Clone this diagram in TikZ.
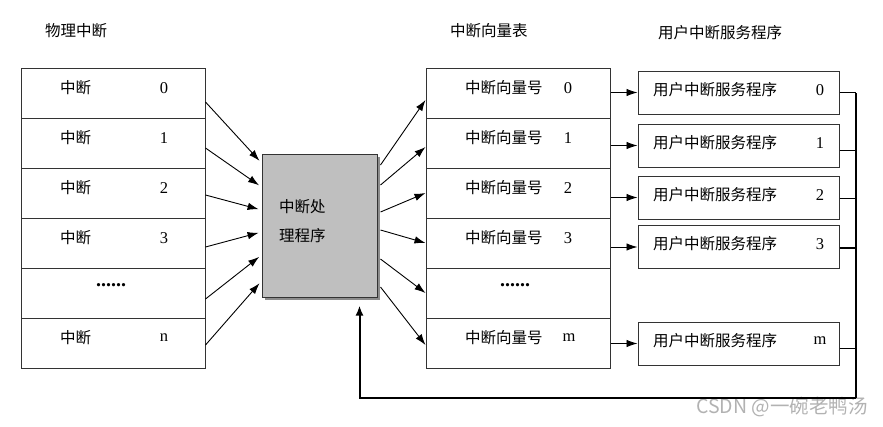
\documentclass[tikz,border=0pt]{standalone}
\usepackage{fontspec}
\setmainfont{Liberation Serif}
\newfontfamily\cjk{Noto Sans CJK SC}
\usepackage{tikz}
\usetikzlibrary{arrows.meta,shadows}

\begin{document}
\begin{tikzpicture}[x=1pt, y=-1pt, every node/.style={inner sep=0pt, font=\fontsize{15.5}{18}\selectfont},
  row/.style={draw=black!80, line width=1pt, minimum width=184pt, minimum height=50pt},
  svc/.style={draw=black!80, line width=1pt, minimum width=201pt, minimum height=43pt},
  num/.style={font=\fontsize{16.5}{18}\selectfont},
  link/.style={-{Latex[length=11pt,width=7.5pt]}, line width=0.9pt},
  bus/.style={line width=2pt}]
\useasboundingbox (0,0) rectangle (883,426);

% Titles
\node[anchor=west] (t1) at (45,31) {\cjk 物理中断};
\node[anchor=west] (t2) at (450,31) {\cjk 中断向量表};
\node[anchor=west] (t3) at (658,33) {\cjk 用户中断服务程序};

% Physical interrupts
\node[row] (p0) at (113,93) {};
\node[row] (p1) at (113,143) {};
\node[row] (p2) at (113,193) {};
\node[row] (p3) at (113,243) {};
\node[row] (pd) at (113,293) {};
\node[row] (pn) at (113,343) {};
\node[anchor=west] (p0l) at (60,88) {\cjk 中断};
\node[anchor=west] (p1l) at (60,138) {\cjk 中断};
\node[anchor=west] (p2l) at (60,188) {\cjk 中断};
\node[anchor=west] (p3l) at (60,238) {\cjk 中断};
\node[anchor=west] (pnl) at (60,338) {\cjk 中断};
\node[num] (p0n) at (164,88) {0};
\node[num] (p1n) at (164,138) {1};
\node[num] (p2n) at (164,188) {2};
\node[num] (p3n) at (164,238) {3};
\node[num] (pnn) at (164,338) {n};
\node[font=\fontsize{20}{20}\bfseries] (pdd) at (111,285) {......};

% Handler
\node[draw=black!80, line width=1pt, fill=black!25, minimum width=115pt, minimum height=143pt,
  drop shadow={shadow xshift=3pt, shadow yshift=-3pt, fill=black!45, opacity=1}] (h) at (319.5,225.5) {};
\node[anchor=west, align=left] (hl) at (279,221.5) {\cjk 中断处\\[11pt]\cjk 理程序};

% Vector table
\node[row] (v0) at (518,93) {};
\node[row] (v1) at (518,143) {};
\node[row] (v2) at (518,193) {};
\node[row] (v3) at (518,243) {};
\node[row] (vd) at (518,293) {};
\node[row] (vm) at (518,343) {};
\node[anchor=west] (v0l) at (465,88) {\cjk 中断向量号};
\node[anchor=west] (v1l) at (465,138) {\cjk 中断向量号};
\node[anchor=west] (v2l) at (465,188) {\cjk 中断向量号};
\node[anchor=west] (v3l) at (465,238) {\cjk 中断向量号};
\node[anchor=west] (vml) at (465,338) {\cjk 中断向量号};
\node[num] (v0n) at (568,88) {0};
\node[num] (v1n) at (568,138) {1};
\node[num] (v2n) at (568,188) {2};
\node[num] (v3n) at (568,238) {3};
\node[num] (vmn) at (569,338) {m};
\node[font=\fontsize{20}{20}\bfseries] (vdd) at (515,285) {......};

% Service routines
\node[svc] (s0) at (738.5,92.5) {};
\node[svc] (s1) at (738.5,145.5) {};
\node[svc] (s2) at (738.5,197.5) {};
\node[svc] (s3) at (738.5,247) {};
\node[svc] (sm) at (738.5,343.5) {};
\node[anchor=west] (s0l) at (653,90) {\cjk 用户中断服务程序};
\node[anchor=west] (s1l) at (653,143) {\cjk 用户中断服务程序};
\node[anchor=west] (s2l) at (653,195) {\cjk 用户中断服务程序};
\node[anchor=west] (s3l) at (653,244) {\cjk 用户中断服务程序};
\node[anchor=west] (sml) at (653,341) {\cjk 用户中断服务程序};
\node[num] (s0n) at (820,90) {0};
\node[num] (s1n) at (820,143) {1};
\node[num] (s2n) at (820,195) {2};
\node[num] (s3n) at (820,244) {3};
\node[num] (smn) at (820,341) {m};

\node[anchor=east, text=black!30, font=\fontsize{19.5}{20}\selectfont] (wm) at (868,407) {\cjk CSDN @一碗老鸭汤};

%Lines
\draw[link, shorten >=3pt] ([yshift=-9pt]p0.east) -- ([yshift=62.5pt]h.west);
\draw[link, shorten >=3pt] ([yshift=-5pt]p1.east) -- ([yshift=38.5pt]h.west);
\draw[link, shorten >=3pt] ([yshift=-2pt]p2.east) -- ([yshift=15.5pt]h.west);
\draw[link, shorten >=3pt] ([yshift=-4pt]p3.east) -- ([yshift=-6.5pt]h.west);
\draw[link, shorten >=3pt] ([yshift=-6pt]pd.east) -- ([yshift=-29.5pt]h.west);
\draw[link, shorten >=3pt] ([yshift=-2pt]pn.east) -- ([yshift=-55.5pt]h.west);

\draw[link] ([xshift=3pt,yshift=60.5pt]h.east) -- ([yshift=-7pt]v0.west);
\draw[link] ([xshift=3pt,yshift=40.5pt]h.east) -- ([yshift=-4pt]v1.west);
\draw[link] ([xshift=3pt,yshift=13.5pt]h.east) -- (v2.west);
\draw[link] ([xshift=3pt,yshift=-4.5pt]h.east) -- (v3.west);
\draw[link] ([xshift=3pt,yshift=-33.5pt]h.east) -- (vd.west);
\draw[link] ([xshift=3pt,yshift=-61.5pt]h.east) -- ([yshift=-2pt]vm.west);

\draw[link] (v0.east |- s0.west) -- (s0.west);
\draw[link] (v1.east |- s1.west) -- (s1.west);
\draw[link] (v2.east |- s2.west) -- (s2.west);
\draw[link] (v3.east |- s3.west) -- (s3.west);
\draw[link] (vm.east |- sm.west) -- (sm.west);

\coordinate (bt) at (856,93);
\coordinate (bb) at (856,398);
\coordinate (hb) at ([xshift=-18pt,yshift=-8pt]h.south east);
\draw[line width=1.2pt] (s0.east) -- (s0.east -| bt);
\draw[line width=1.2pt] ([yshift=-5pt]s1.east) -- ([yshift=-5pt]s1.east -| bt);
\draw[line width=1.2pt] ([yshift=-1pt]s2.east) -- ([yshift=-1pt]s2.east -| bt);
\draw[line width=1.2pt] ([yshift=-1pt]s3.east) -- ([yshift=-1pt]s3.east -| bt);
\draw[line width=1.2pt] ([yshift=-5pt]sm.east) -- ([yshift=-5pt]sm.east -| bt);
\draw[bus] (bt) -- (bb);
\draw[bus, -{Latex[length=10pt,width=8pt]}] (bb) -| (hb);
\end{tikzpicture}
\end{document}
